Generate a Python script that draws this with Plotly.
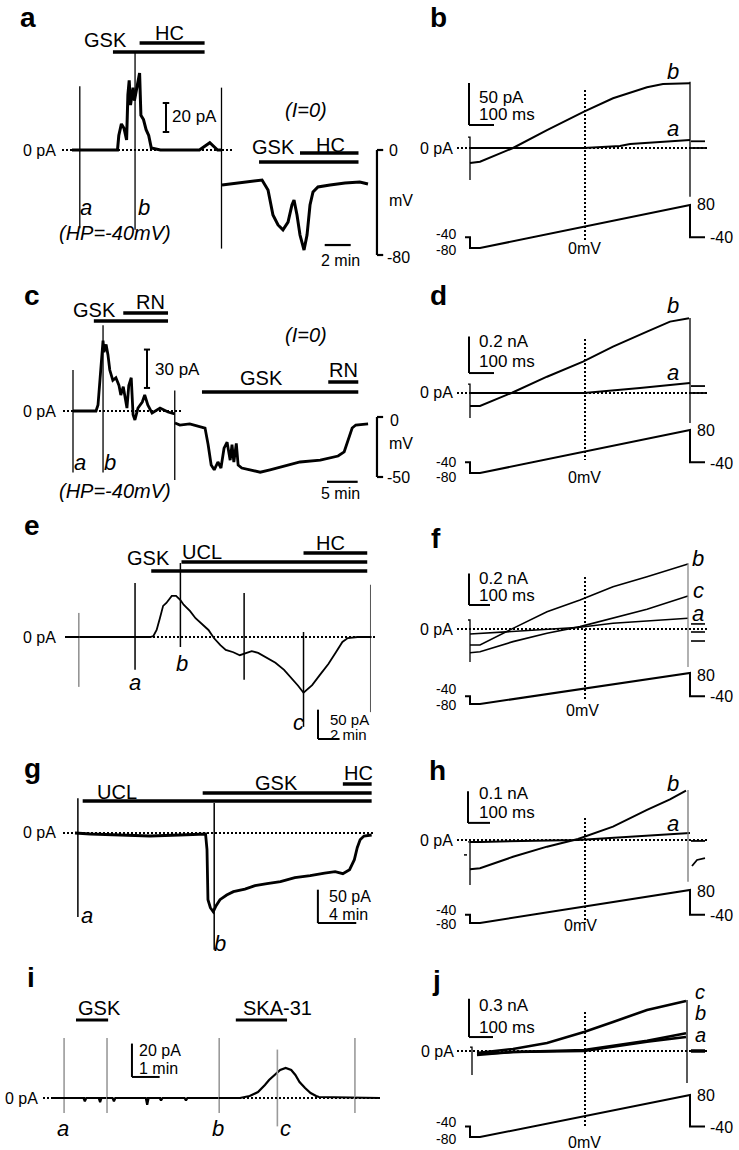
import plotly.graph_objects as go

W, H = 739, 1150
FONT = "Arial, Liberation Sans, sans-serif"

# ======================= DATA =======================
# ---- a: current at HP=-40 mV (min, pA) ----
a_vc_t = [0, 3.5, 3.6, 3.8, 4.0, 4.2, 4.3, 4.4, 4.5, 4.7, 4.8, 5.0, 5.2, 5.3, 5.5, 5.7, 5.9, 6.1, 6.8, 9.8, 10.6, 11.2, 11.5]
a_vc_i = [0, 0, 10, 18, 15, 7, 38, 48, 31, 43, 34, 45, 53, 24, 21, 14, 10, 1.4, 0, 0, 5, 0, 0]
a_sweep_t = [0.6, 4.85, 11.5]
a_sweep_lo = [-54, -55, -68]
a_sweep_hi = [44, 67, 43]
a_gsk = [3.15, 10.2]
a_hc = [5.2, 10.2]
# ---- a: membrane potential at I=0 (min, mV) ----
a_cc_t = [0, 1.77, 3.08, 3.54, 3.92, 4.31, 4.69, 5.08, 5.38, 5.54, 5.77, 6.0, 6.31, 6.54, 6.77, 7.0, 7.38, 8.31, 9.46, 10.6, 11.23]
a_cc_v = [-26.7, -24.4, -22.9, -30.5, -49.5, -57.1, -60.9, -54.9, -41.9, -38.1, -49.5, -64.8, -76.2, -64.8, -41.9, -32, -28.2, -26.7, -25.1, -24.4, -25.9]
a_cc_gsk = [2.85, 10.5]
a_cc_hc = [6.0, 10.5]

# ---- ramp protocol (ms, mV), shared by b, d, f, h, j ----
ramp_t = [-20, 0, 0, 40, 880, 880, 940]
ramp_v = [-40, -40, -80, -80, 80, -40, -40]
zero_mv_t = 460

# ---- b: ramp currents (ms, pA) ----
b_a_t = [0, 456, 600, 640, 760, 880]
b_a_i = [0, 0, 2.4, 4.8, 7, 9.5]
b_b_t = [0, 40, 172, 308, 456, 572, 708, 772, 880]
b_b_i = [-17.9, -16.3, 0, 21.3, 43.2, 59.2, 72.3, 76.2, 77]
b_post = [8, 0]
b_cap = [(0, 13, -38), (880, 79, -58)]

# ---- c: current (min, pA) and potential (min, mV) ----
c_vc_t = [0, 3.75, 4.08, 4.4, 4.73, 4.9, 5.05, 5.4, 5.7, 6.0, 6.5, 7.0, 7.5, 7.8, 8.2, 8.5, 8.8, 9.1, 9.5, 9.8, 10.1, 10.6, 11.3, 11.7, 12.2, 12.9, 14.2, 15.5, 16.6]
c_vc_i = [0, 0, 4.7, 24, 48, 55, 46, 52, 44, 32, 24, 26, 20, 12.5, 19, 8.6, 2.3, 20, 26, -3, -7, 2.3, 7, 12.5, 4.7, -1.6, 2.3, -0.8, -2.3]
c_sweep_t = [0, 4.9, 16.6]
c_sweep_lo = [-48, -48, -54]
c_sweep_hi = [32, 67, 16]
c_gsk = [3.4, 15.5]
c_rn = [8.2, 15.5]
c_cc_t = [0, 0.8, 2.4, 4.1, 4.9, 5.4, 5.9, 6.4, 7.0, 7.5, 8.0, 8.5, 9.0, 9.3, 9.6, 10.0, 10.3, 10.9, 12.2, 13.9, 15.5, 17.9, 20.4, 23.7, 26.6, 27.6, 28.2, 28.9, 29.5, 31.5]
c_cc_v = [-5, -6.7, -5.8, -8.3, -9.2, -23, -40, -44, -37.5, -42.5, -26, -21, -36, -23, -37.5, -22, -40, -42.5, -44, -46, -44, -41, -37.5, -36, -32.5, -29, -19, -9.2, -6.7, -5.8]
c_cc_gsk = [4.4, 29.9]
c_cc_rn = [25.0, 29.9]

# ---- d: ramp currents (ms, pA) ----
d_a_t = [0, 456, 680, 880]
d_a_i = [0, 0, 27, 55]
d_b_t = [0, 40, 168, 308, 452, 572, 708, 800, 876]
d_b_i = [-71, -71, 1.6, 89, 171, 253, 335, 390, 408]
d_post = [38, 0]
d_cap = [(0, 49, -137), (880, 410, -164)]

# ---- e: current (min, pA) ----
e_t = [0, 7.7, 8.0, 8.3, 8.6, 8.9, 9.2, 9.4, 9.7, 10.1, 10.5, 10.8, 11.4, 11.9, 12.5, 13.1, 13.6, 14.2, 14.7, 15.4, 16.0, 16.6, 17.1, 17.7, 18.4, 19.3, 20.1, 20.8, 21.4, 21.9, 22.7, 23.4, 24.2, 24.9, 25.5, 26.0, 26.9, 28.2]
e_i = [0, 0, 1.7, 12, 32, 53, 58, 63, 70, 70, 63, 55, 44, 32, 22, 12, -1.7, -14, -22, -26, -31, -27, -24, -27, -34, -44, -56, -70, -83, -95, -82, -65, -46, -26, -8.5, -1.7, 0, 0]
e_sweep_t = [1.1, 6.3, 10.5, 16.4, 21.9, 28.1]
e_sweep_lo = [-85, -56, -17, -73, -153, -128]
e_sweep_hi = [41, 92, 126, 75, 8.5, 89]
e_gsk = [7.8, 27.8]
e_ucl = [10.6, 27.8]
e_hc = [21.9, 27.8]

# ---- f: ramp currents (ms, pA) ----
f_t = [0, 40, 172, 308, 440, 572, 708, 872]
f_b_i = [-101, -101, 4, 109, 184, 268, 331, 411]
f_c_i = [-150, -144, -80, -27, 15, 68, 125, 209]
f_a_t = [0, 172, 440, 572, 708, 872]
f_a_i = [-32, -17, 11, 36, 51, 68]
f_post = [32, -19, -76]
f_cap = [(0, 57, -209), (872, 418, -240)]

# ---- g: current (min, pA) ----
g_t = [0, 1.6, 4.7, 7.8, 10.9, 13.6, 13.75, 13.85, 14.1, 14.4, 14.7, 15.1, 15.8, 16.5, 17.7, 18.75, 20.0, 21.4, 22.9, 24.5, 26.0, 27.1, 27.9, 28.6, 29.1, 29.4, 29.7, 30.1, 30.9]
g_i = [0, -1.5, -3, -4.5, -3, -1.5, -25, -100, -112, -118, -109, -100, -93, -88, -84, -79, -76, -73, -67, -64, -60, -58, -61, -55, -40, -22, -10, -4.5, -3]
g_sweep_t = [0.3, 14.5]
g_sweep_lo = [-126, -175]
g_sweep_hi = [52, 45]
g_ucl = [0.8, 30.9]
g_gsk = [13.3, 30.9]
g_hc = [27.9, 30.9]

# ---- h: ramp currents (ms, pA) ----
h_a_t = [0, 40, 432, 880]
h_a_i = [-6, -6, 0, 22]
h_b_t = [0, 40, 172, 308, 432, 572, 708, 800, 864]
h_b_i = [-92, -89, -53, -21, 3, 42, 95, 128, 156]
h_hook_t = [888, 908, 940]
h_hook_i = [-82, -63, -57]
h_post = [-3]
h_cap = [(0, -6, -142), (872, 158, -132)]

# ---- i: current (min, pA) ----
i_t = [0, 1.1, 1.15, 1.2, 1.65, 1.7, 1.75, 2.15, 2.2, 2.25, 3.35, 3.4, 3.45, 3.85, 3.9, 3.95, 4.75, 4.8, 4.85, 6.75, 7.1, 7.4, 7.65, 7.8, 8.0, 8.2, 8.4, 8.6, 8.75, 8.9, 9.1, 9.3, 9.5, 9.6, 11.8]
i_i = [0, 0, -2, 0, 0, -2.5, 0, 0, -2, 0, 0, -4, 0, 0, -1.5, 0, 0, -1.5, 0, 0, 1.2, 3.6, 7.8, 10.8, 13.8, 16.8, 18, 16.8, 13.8, 9.6, 6, 3, 1.2, 0.6, 0]
i_sweep_t = [0.4, 1.95, 6.0, 8.1, 10.9]
i_sweep_lo = [-9, -9, -9, -17, -9]
i_sweep_hi = [36, 36, 36, 29, 36]
i_gsk = [0.83, 1.99]
i_ska = [6.6, 8.45]

# ---- j: ramp currents (ms, pA) ----
j_c_t = [28, 172, 308, 456, 572, 708, 864]
j_c_i = [-16, 16, 62, 148, 227, 320, 390]
j_ab_t = [28, 172, 456, 572, 708, 864]
j_b_i = [-23, -8, 8, 41, 80, 138]
j_a_i = [-31, -8, 0, 34, 73, 109]
j_post = [0]
j_cap = [(8, 31, -187), (868, 398, -250)]

# ======================= AXES (pixel origin and scale per panel) =======================
AXES = [
    ("a_vc", 72, 13.0, 150, 1.45),
    ("a_cc", 222, 13.0, 150, 1.3125),
    ("b_i", 470, 0.25, 148, 0.84),
    ("b_v", 470, 0.25, 226.5, 0.269),
    ("c_vc", 73, 6.13, 411, 1.28),
    ("c_cc", 175, 6.13, 417, 1.2),
    ("d_i", 470, 0.25, 393, 0.183),
    ("d_v", 470, 0.25, 451.5, 0.269),
    ("e", 67, 10.8, 637, 0.587),
    ("f_i", 470, 0.25, 629, 0.158),
    ("f_v", 470, 0.25, 688.5, 0.194),
    ("g", 75, 9.6, 833, 0.667),
    ("h_i", 470, 0.25, 840, 0.317),
    ("h_v", 470, 0.25, 906.5, 0.206),
    ("i", 53, 27.7, 1098, 1.67),
    ("j_i", 470, 0.25, 1051, 0.128),
    ("j_v", 470, 0.25, 1116, 0.2625),
]

layout = dict(width=W, height=H, margin=dict(l=0, r=0, t=0, b=0),
              paper_bgcolor="white", plot_bgcolor="rgba(0,0,0,0)", showlegend=False)
REF = {}
for k, (name, x0, sx, y0, sy) in enumerate(AXES, start=1):
    sfx = "" if k == 1 else str(k)
    layout["xaxis" + sfx] = dict(range=[-x0 / sx, (W - x0) / sx], domain=[0, 1], visible=False,
                                 fixedrange=True, anchor="y" + sfx)
    layout["yaxis" + sfx] = dict(range=[(y0 - H) / sy, y0 / sy], domain=[0, 1], visible=False,
                                 fixedrange=True, anchor="x" + sfx)
    REF[name] = ("x" + sfx, "y" + sfx)

fig = go.Figure()
shapes = []
annots = []


def px(x):
    return x / W


def py(y):
    return 1 - y / H


def line(ax, t, v, width=2.0, color="black"):
    xr, yr = REF[ax]
    fig.add_trace(go.Scatter(x=t, y=v, mode="lines", xaxis=xr, yaxis=yr, hoverinfo="skip",
                             line=dict(color=color, width=width, shape="linear")))


def sweeps(ax, ts, lo, hi, width=1.3, color="black"):
    xs, ys = [], []
    for t, a, b in zip(ts, lo, hi):
        xs += [t, t, None]
        ys += [a, b, None]
    line(ax, xs, ys, width, color)


def bar_time(ax, span, ypix, width=3.5):
    xr, _ = REF[ax]
    shapes.append(dict(type="line", xref=xr, yref="paper", x0=span[0], x1=span[1],
                       y0=py(ypix), y1=py(ypix), line=dict(color="black", width=width)))


def seg(ax, x0, y0, x1, y1, width=2, color="black"):
    xr, yr = REF[ax]
    shapes.append(dict(type="line", xref=xr, yref=yr, x0=x0, y0=y0, x1=x1, y1=y1,
                       line=dict(color=color, width=width)))


def hdots(ax, xpix0, xpix1):
    _, yr = REF[ax]
    shapes.append(dict(type="line", xref="paper", yref=yr, x0=px(xpix0), x1=px(xpix1), y0=0, y1=0,
                       line=dict(color="black", width=2, dash="2px,2px")))


def vdots(ax, t, ypix0, ypix1):
    xr, _ = REF[ax]
    shapes.append(dict(type="line", xref=xr, yref="paper", x0=t, x1=t, y0=py(ypix0), y1=py(ypix1),
                       line=dict(color="black", width=2, dash="2px,2px")))


def txt(s, x, y, size=16, anchor="center", italic=False, bold=False):
    if italic:
        s = "<i>" + s + "</i>"
    if bold:
        s = "<b>" + s + "</b>"
    annots.append(dict(text=s, x=px(x), y=py(y), xref="paper", yref="paper", xanchor=anchor,
                       yanchor="middle", showarrow=False, font=dict(family=FONT, size=size, color="black")))


def scale_I(ax, t, i0, di, tick):
    seg(ax, t, i0, t, i0 + di, 2)
    seg(ax, t - tick, i0, t + tick, i0, 2)
    seg(ax, t - tick, i0 + di, t + tick, i0 + di, 2)


def scale_L(ax, t, i0, di, dt, width=2):
    seg(ax, t, i0 + di, t, i0, width)
    seg(ax, t, i0, t + dt, i0, width)


def ramp_common(p, traces, post, cap, zero_pix, end_color="black", lw=2.0, post_w=1.8):
    ai, av = p + "_i", p + "_v"
    hdots(ai, 457, 708)
    for t, v in traces:
        line(ai, t, v, lw)
    for lvl in post:
        line(ai, [884, 940], [lvl, lvl], post_w)
    (t0, hi0, lo0), (t1, hi1, lo1) = cap
    line(ai, [t0 - 8, t0, t0], [hi0, hi0, lo0], 1.3)
    line(ai, [t1, t1], [hi1, lo1], 1.3, end_color)
    line(av, ramp_t, ramp_v, 2)
    vdots(av, zero_mv_t, zero_pix[0], zero_pix[1])


def volt_labels(y80, y40r, y40l, y80l, y0mv, x0mv=584):
    txt("80", 695, y80, 16, "left")
    txt("-40", 708, y40r, 16, "left")
    txt("-40", 458, y40l, 14, "right")
    txt("-80", 458, y80l, 14, "right")
    txt("0mV", x0mv, y0mv, 16)


# ======================= PANEL a =======================
hdots("a_vc", 62, 232)
line("a_vc", a_vc_t, a_vc_i, 3.0)
sweeps("a_vc", a_sweep_t, a_sweep_lo, a_sweep_hi)
bar_time("a_vc", a_gsk, 52)
bar_time("a_vc", a_hc, 43)
line("a_cc", a_cc_t, a_cc_v, 3.0)
bar_time("a_cc", a_cc_gsk, 162)
bar_time("a_cc", a_cc_hc, 153)
scale_I("a_vc", 7.23, 12.4, 20, 0.25)
seg("a_cc", 11.92, 0, 11.92, -80, 2.2)
seg("a_cc", 11.92, 0, 12.4, 0, 2.2)
seg("a_cc", 11.92, -80, 12.4, -80, 2.2)
seg("a_cc", 7.9, -72.4, 9.9, -72.4, 2.2)
txt("a", 28, 17, 28, bold=True)
txt("GSK", 106, 40, 20)
txt("HC", 169, 33, 20)
txt("0 pA", 58, 150, 16, "right")
txt("20 pA", 170, 117, 17, "left")
txt("(I=0)", 306, 110, 20, italic=True)
txt("GSK", 273, 147, 20)
txt("HC", 330, 145, 20)
txt("0", 387, 150, 16, "left")
txt("mV", 387, 200, 16, "left")
txt("-80", 385, 258, 16, "left")
txt("a", 86, 208, 22, italic=True)
txt("b", 144, 208, 22, italic=True)
txt("(HP=-40mV)", 115, 233, 20, italic=True)
txt("2 min", 340, 260, 16)

# ======================= PANEL b =======================
ramp_common("b", [(b_a_t, b_a_i), (b_b_t, b_b_i)], b_post, b_cap, (90, 240))
scale_L("b_i", -4, 27.4, 50, 100)
txt("b", 438, 17, 28, bold=True)
txt("50 pA", 477, 97, 17, "left")
txt("100 ms", 477, 115, 17, "left")
txt("0 pA", 455, 148, 16, "right")
txt("b", 673, 72, 22, italic=True)
txt("a", 673, 128, 22, italic=True)
volt_labels(204, 237, 234, 250, 248)

# ======================= PANEL c =======================
hdots("c_vc", 63, 182)
line("c_vc", c_vc_t, c_vc_i, 2.8)
sweeps("c_vc", c_sweep_t, c_sweep_lo, c_sweep_hi)
bar_time("c_vc", c_gsk, 321)
bar_time("c_vc", c_rn, 313)
line("c_cc", c_cc_t, c_cc_v, 2.8)
bar_time("c_cc", c_cc_gsk, 392)
bar_time("c_cc", c_cc_rn, 382)
scale_I("c_vc", 12.07, 18, 30, 0.5)
seg("c_cc", 32.95, 0, 32.95, -50, 2.2)
seg("c_cc", 32.95, 0, 33.95, 0, 2.2)
seg("c_cc", 32.95, -50, 33.95, -50, 2.2)
seg("c_cc", 24.8, -54, 29.8, -54, 2.2)
txt("c", 32, 295, 28, bold=True)
txt("GSK", 94, 310, 20)
txt("RN", 150, 302, 20)
txt("(I=0)", 306, 335, 20, italic=True)
txt("30 pA", 153, 369, 17, "left")
txt("0 pA", 58, 411, 16, "right")
txt("a", 80, 462, 22, italic=True)
txt("b", 110, 462, 22, italic=True)
txt("(HP=-40mV)", 115, 491, 20, italic=True)
txt("GSK", 261, 378, 20)
txt("RN", 343, 370, 20)
txt("0", 388, 420, 16, "left")
txt("mV", 387, 444, 16, "left")
txt("-50", 385, 478, 16, "left")
txt("5 min", 340, 494, 16)

# ======================= PANEL d =======================
ramp_common("d", [(d_a_t, d_a_i), (d_b_t, d_b_i)], d_post, d_cap, (339, 460))
scale_L("d_i", -4, 109, 200, 100)
txt("d", 438, 295, 28, bold=True)
txt("0.2 nA", 477, 342, 17, "left")
txt("100 ms", 477, 361, 17, "left")
txt("0 pA", 455, 393, 16, "right")
txt("b", 673, 305, 22, italic=True)
txt("a", 673, 372, 22, italic=True)
volt_labels(430, 463, 462, 477, 477)

# ======================= PANEL e =======================
hdots("e", 65, 375)
line("e", e_t, e_i, 1.8)
sweeps("e", e_sweep_t[1:5], e_sweep_lo[1:5], e_sweep_hi[1:5], 1.5)
sweeps("e", [e_sweep_t[0], e_sweep_t[5]], [e_sweep_lo[0], e_sweep_lo[5]], [e_sweep_hi[0], e_sweep_hi[5]], 1.0, "#555555")
bar_time("e", e_gsk, 571)
bar_time("e", e_ucl, 562)
bar_time("e", e_hc, 553)
scale_L("e", 23.24, -173.8, 50, 2)
txt("e", 32, 525, 28, bold=True)
txt("GSK", 148, 558, 20)
txt("UCL", 202, 552, 20)
txt("HC", 330, 543, 20)
txt("0 pA", 58, 637, 16, "right")
txt("a", 135, 682, 22, italic=True)
txt("b", 182, 663, 22, italic=True)
txt("c", 298, 723, 22, italic=True)
txt("50 pA", 328, 719, 15, "left")
txt("2 min", 328, 734, 15, "left")

# ======================= PANEL f =======================
ramp_common("f", [(f_a_t, f_a_i), (f_t, f_c_i), (f_t, f_b_i)], f_post, f_cap, (577, 700), "#888888", 1.6, 1.6)
scale_L("f_i", -4, 152, 200, 84)
txt("f", 436, 538, 28, bold=True)
txt("0.2 nA", 477, 578, 17, "left")
txt("100 ms", 477, 595, 17, "left")
txt("0 pA", 455, 629, 16, "right")
txt("b", 698, 558, 22, italic=True)
txt("c", 698, 590, 22, italic=True)
txt("a", 698, 613, 22, italic=True)
volt_labels(675, 696, 689, 705, 710, 582)

# ======================= PANEL g =======================
hdots("g", 63, 375)
line("g", g_t, g_i, 2.8)
sweeps("g", g_sweep_t, g_sweep_lo, g_sweep_hi, 1.5)
bar_time("g", g_ucl, 801)
bar_time("g", g_gsk, 793)
bar_time("g", g_hc, 784)
scale_L("g", 25.3, -135, 50, 4)
txt("g", 32, 768, 28, bold=True)
txt("UCL", 117, 792, 20)
txt("GSK", 276, 783, 20)
txt("HC", 358, 773, 20)
txt("0 pA", 58, 833, 16, "right")
txt("a", 87, 915, 22, italic=True)
txt("b", 220, 943, 22, italic=True)
txt("50 pA", 327, 896, 16, "left")
txt("4 min", 327, 914, 16, "left")

# ======================= PANEL h =======================
ramp_common("h", [(h_a_t, h_a_i), (h_b_t, h_b_i)], h_post, h_cap, (818, 923), "#777777", 2.0)
line("h_i", h_hook_t, h_hook_i, 1.8)
seg("h_i", -24, -47, -12, -47, 1.5)
scale_L("h_i", -8, 54, 100, 88)
txt("h", 437, 770, 28, bold=True)
txt("0.1 nA", 477, 793, 17, "left")
txt("100 ms", 477, 812, 17, "left")
txt("0 pA", 455, 840, 16, "right")
txt("b", 673, 783, 22, italic=True)
txt("a", 673, 823, 22, italic=True)
volt_labels(891, 915, 910, 924, 925, 580)

# ======================= PANEL i =======================
hdots("i", 43, 380)
line("i", i_t, i_i, 2.2)
sweeps("i", i_sweep_t, i_sweep_lo, i_sweep_hi, 1.6, "#9a9a9a")
bar_time("i", i_gsk, 1020, 3)
bar_time("i", i_ska, 1020, 3)
scale_L("i", 2.85, 12.6, 20, 1)
txt("i", 31, 977, 28, bold=True)
txt("GSK", 99, 1008, 20)
txt("SKA-31", 277, 1008, 20)
txt("20 pA", 137, 1050, 16, "left")
txt("1 min", 137, 1068, 16, "left")
txt("0 pA", 40, 1098, 16, "right")
txt("a", 63, 1128, 22, italic=True)
txt("b", 218, 1128, 22, italic=True)
txt("c", 285, 1128, 22, italic=True)

# ======================= PANEL j =======================
ramp_common("j", [(j_ab_t, j_a_i), (j_ab_t, j_b_i), (j_c_t, j_c_i)], j_post, j_cap, (1012, 1128), "black", 2.6, 3.5)
scale_L("j_i", -4, 109, 300, 96)
txt("j", 436, 980, 28, bold=True)
txt("0.3 nA", 477, 1005, 17, "left")
txt("100 ms", 477, 1027, 17, "left")
txt("0 pA", 456, 1051, 16, "right")
txt("c", 700, 992, 20, italic=True)
txt("b", 700, 1013, 20, italic=True)
txt("a", 700, 1035, 20, italic=True)
volt_labels(1095, 1127, 1122, 1139, 1142)

layout["shapes"] = shapes
layout["annotations"] = annots
fig.update_layout(**layout)
fig.write_html("out.html", config={"displayModeBar": False},
               post_script="document.body.style.margin='0';document.body.style.overflow='hidden';")
